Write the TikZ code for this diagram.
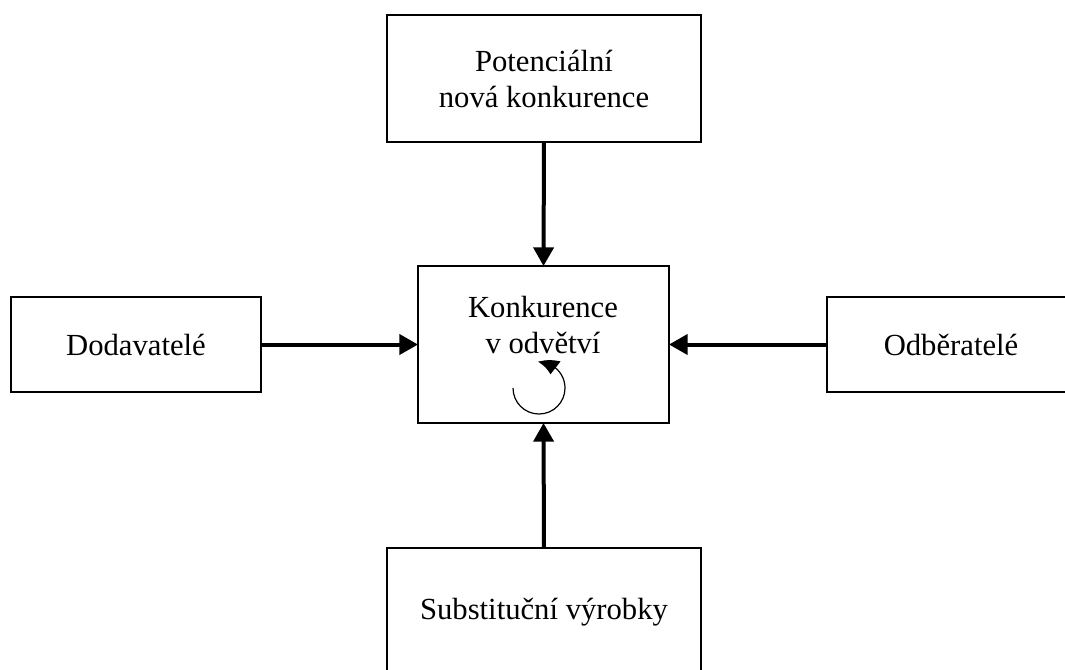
\documentclass[tikz,border=0pt]{standalone}
\usepackage{fontspec}
\setmainfont{Liberation Serif}
\usetikzlibrary{arrows.meta,bending}
\begin{document}
\begin{tikzpicture}[x=0.75pt,y=-0.75pt,
  box/.style={draw, line width=0.9pt, inner sep=0pt, outer sep=0pt, align=center,
              font=\fontsize{23}{27}\selectfont},
  lbl/.style={inner sep=0pt, align=center, font=\fontsize{23}{27}\selectfont},
  arr/.style={line width=3pt, -{Triangle[length=14pt,width=15pt]}},
  cyc/.style={line width=0.9pt, -{Triangle[length=14pt,width=12pt,bend]}}]
\useasboundingbox (0,0) rectangle (1065,669);
\clip (0,0) rectangle (1065,669);
\node[box, minimum width=235.5pt, minimum height=95.25pt] (top) at (544,78.5) {Potenciální\\nová konkurence};
\node[box, minimum width=188.25pt, minimum height=117.75pt] (mid) at (543.5,344.5) {};
\node[lbl] (midtext) at (543,325) {Konkurence\\v odvětví};
\node[box, minimum width=187.5pt, minimum height=71.25pt] (left) at (136,344.5) {Dodavatelé};
\node[box, minimum width=186pt, minimum height=71.25pt] (right) at (951,344.5) {Odběratelé};
\node[box, minimum width=235.5pt, minimum height=96pt] (bottom) at (544,612) {Substituční výrobky};
\draw[arr] (top.south) -- (mid.north);
\draw[arr] (left.east) -- (mid.west);
\draw[arr] (right.west) -- (mid.east);
\draw[arr] (bottom.north) -- (mid.south);
\coordinate (cycstart) at (513,388);
\draw[cyc] (cycstart) arc[start angle=180, end angle=-92, radius=26];
\end{tikzpicture}
\end{document}
